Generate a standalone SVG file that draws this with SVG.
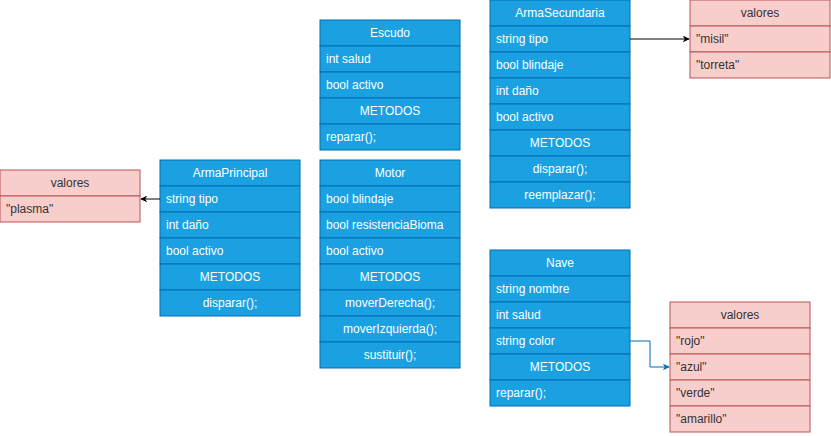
<svg xmlns="http://www.w3.org/2000/svg" width="831" height="436" viewBox="0 0 831 436">
<style>
.c{fill:#1ba1e2;stroke:#006eaf;stroke-width:1}
.v{fill:#f8cecc;stroke:#b85450;stroke-width:1}
.ct{fill:#ffffff;font-family:"Liberation Sans",Arial,sans-serif;font-size:12px}
.vt{fill:#333333;font-family:"Liberation Sans",Arial,sans-serif;font-size:12px}
.m{text-anchor:middle}
</style>
<defs>
<marker id="ab" viewBox="0 0 10 10" refX="9" refY="5" markerWidth="7" markerHeight="7" orient="auto" markerUnits="userSpaceOnUse">
<path d="M0,0 L10,5 L0,10 L3,5 Z" fill="#000000"/>
</marker>
<marker id="abb" viewBox="0 0 10 10" refX="9" refY="5" markerWidth="7" markerHeight="7" orient="auto" markerUnits="userSpaceOnUse">
<path d="M0,0 L10,5 L0,10 L3,5 Z" fill="#006eaf"/>
</marker>
</defs>
<rect width="831" height="436" fill="#ffffff"/>

<g id="valores-plasma">
<rect class="v" x="0" y="170" width="140" height="26"/>
<rect class="v" x="0" y="196" width="140" height="26"/>
<text class="vt m" x="70" y="187">valores</text>
<text class="vt" x="6" y="213">"plasma"</text>
</g>

<g id="ArmaPrincipal">
<rect class="c" x="160" y="160" width="140" height="26"/>
<rect class="c" x="160" y="186" width="140" height="26"/>
<rect class="c" x="160" y="212" width="140" height="26"/>
<rect class="c" x="160" y="238" width="140" height="26"/>
<rect class="c" x="160" y="264" width="140" height="26"/>
<rect class="c" x="160" y="290" width="140" height="26"/>
<text class="ct m" x="230" y="177">ArmaPrincipal</text>
<text class="ct" x="166" y="203">string tipo</text>
<text class="ct" x="166" y="229">int daño</text>
<text class="ct" x="166" y="255">bool activo</text>
<text class="ct m" x="230" y="281">METODOS</text>
<text class="ct m" x="230" y="307">disparar();</text>
</g>

<g id="Escudo">
<rect class="c" x="320" y="20" width="140" height="26"/>
<rect class="c" x="320" y="46" width="140" height="26"/>
<rect class="c" x="320" y="72" width="140" height="26"/>
<rect class="c" x="320" y="98" width="140" height="26"/>
<rect class="c" x="320" y="124" width="140" height="26"/>
<text class="ct m" x="390" y="37">Escudo</text>
<text class="ct" x="326" y="63">int salud</text>
<text class="ct" x="326" y="89">bool activo</text>
<text class="ct m" x="390" y="115">METODOS</text>
<text class="ct" x="326" y="141">reparar();</text>
</g>

<g id="Motor">
<rect class="c" x="320" y="160" width="140" height="26"/>
<rect class="c" x="320" y="186" width="140" height="26"/>
<rect class="c" x="320" y="212" width="140" height="26"/>
<rect class="c" x="320" y="238" width="140" height="26"/>
<rect class="c" x="320" y="264" width="140" height="26"/>
<rect class="c" x="320" y="290" width="140" height="26"/>
<rect class="c" x="320" y="316" width="140" height="26"/>
<rect class="c" x="320" y="342" width="140" height="26"/>
<text class="ct m" x="390" y="177">Motor</text>
<text class="ct" x="326" y="203">bool blindaje</text>
<text class="ct" x="326" y="229">bool resistenciaBioma</text>
<text class="ct" x="326" y="255">bool activo</text>
<text class="ct m" x="390" y="281">METODOS</text>
<text class="ct m" x="390" y="307">moverDerecha();</text>
<text class="ct m" x="390" y="333">moverIzquierda();</text>
<text class="ct m" x="390" y="359">sustituir();</text>
</g>

<g id="ArmaSecundaria">
<rect class="c" x="490" y="0" width="140" height="26"/>
<rect class="c" x="490" y="26" width="140" height="26"/>
<rect class="c" x="490" y="52" width="140" height="26"/>
<rect class="c" x="490" y="78" width="140" height="26"/>
<rect class="c" x="490" y="104" width="140" height="26"/>
<rect class="c" x="490" y="130" width="140" height="26"/>
<rect class="c" x="490" y="156" width="140" height="26"/>
<rect class="c" x="490" y="182" width="140" height="26"/>
<text class="ct m" x="560" y="17">ArmaSecundaria</text>
<text class="ct" x="496" y="43">string tipo</text>
<text class="ct" x="496" y="69">bool blindaje</text>
<text class="ct" x="496" y="95">int daño</text>
<text class="ct" x="496" y="121">bool activo</text>
<text class="ct m" x="560" y="147">METODOS</text>
<text class="ct m" x="560" y="173">disparar();</text>
<text class="ct m" x="560" y="199">reemplazar();</text>
</g>

<g id="valores-misil">
<rect class="v" x="690" y="0" width="140" height="26"/>
<rect class="v" x="690" y="26" width="140" height="26"/>
<rect class="v" x="690" y="52" width="140" height="26"/>
<text class="vt m" x="760" y="17">valores</text>
<text class="vt" x="696" y="43">"misil"</text>
<text class="vt" x="696" y="69">"torreta"</text>
</g>

<g id="Nave">
<rect class="c" x="490" y="250" width="140" height="26"/>
<rect class="c" x="490" y="276" width="140" height="26"/>
<rect class="c" x="490" y="302" width="140" height="26"/>
<rect class="c" x="490" y="328" width="140" height="26"/>
<rect class="c" x="490" y="354" width="140" height="26"/>
<rect class="c" x="490" y="380" width="140" height="26"/>
<text class="ct m" x="560" y="267">Nave</text>
<text class="ct" x="496" y="293">string nombre</text>
<text class="ct" x="496" y="319">int salud</text>
<text class="ct" x="496" y="345">string color</text>
<text class="ct m" x="560" y="371">METODOS</text>
<text class="ct" x="496" y="397">reparar();</text>
</g>

<g id="valores-color">
<rect class="v" x="670" y="302" width="140" height="26"/>
<rect class="v" x="670" y="328" width="140" height="26"/>
<rect class="v" x="670" y="354" width="140" height="26"/>
<rect class="v" x="670" y="380" width="140" height="26"/>
<rect class="v" x="670" y="406" width="140" height="26"/>
<text class="vt m" x="740" y="319">valores</text>
<text class="vt" x="676" y="345">"rojo"</text>
<text class="vt" x="676" y="371">"azul"</text>
<text class="vt" x="676" y="397">"verde"</text>
<text class="vt" x="676" y="423">"amarillo"</text>
</g>

<g id="connectors" fill="none">
<path d="M160,199 L141,199" stroke="#000000" stroke-width="1" marker-end="url(#ab)"/>
<path d="M630,39 L689,39" stroke="#000000" stroke-width="1" marker-end="url(#ab)"/>
<path d="M630,341 L650,341 L650,367 L669,367" stroke="#006eaf" stroke-width="1" marker-end="url(#abb)"/>
</g>
</svg>
